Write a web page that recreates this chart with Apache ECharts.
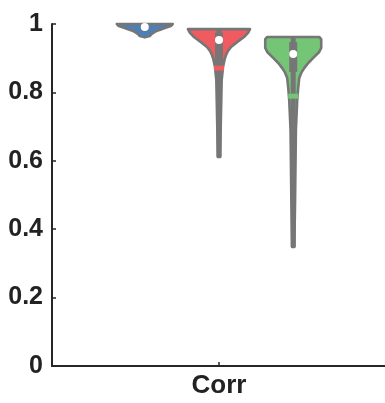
<!DOCTYPE html>
<html>
<head>
<meta charset="utf-8">
<script src="https://cdn.jsdelivr.net/npm/echarts@6/dist/echarts.min.js"></script>
<style>
  html, body { margin: 0; padding: 0; background: #fff; }
  #chart { width: 385px; height: 403px; }
</style>
</head>
<body>
<div id="chart"></div>
<script>
// Group positions along the (hidden) numeric x scale; the single category sits at 2
const categories = ['Corr'];
const categoryPos = [2];
const groupPos = [1, 2, 3];
const groupColors = ['#4f7fb8', '#ef5b5f', '#74c576'];

// Kernel density outlines: y levels and half-widths (x-axis units)
const blueY  = [1.000, 0.994, 0.988, 0.982, 0.977, 0.971, 0.965, 0.961];
const blueHW = [0.377, 0.350, 0.270, 0.189, 0.135, 0.094, 0.067, 0.000];
const redY   = [0.985, 0.974, 0.962, 0.947, 0.933, 0.921, 0.909, 0.895, 0.874, 0.836, 0.719, 0.611];
const redHW  = [0.418, 0.391, 0.337, 0.243, 0.162, 0.121, 0.094, 0.074, 0.054, 0.036, 0.025, 0.015];
const greenY  = [0.962, 0.956, 0.930, 0.918, 0.901, 0.886, 0.871, 0.857, 0.842, 0.813, 0.778, 0.690, 0.485, 0.348];
const greenHW = [0.350, 0.377, 0.377, 0.350, 0.270, 0.202, 0.148, 0.108, 0.081, 0.067, 0.054, 0.036, 0.025, 0.015];

// Summary statistics per group
const whiskerLow  = [0.961, 0.611, 0.348];
const whiskerHigh = [1.000, 0.985, 0.962];
const boxLow      = [0.975, 0.875, 0.860];
const boxHigh     = [0.997, 0.975, 0.947];
const medians     = [0.991, 0.953, 0.912];
const means       = [0.972, 0.871, 0.789];

// Y axis ticks
const yTicks = [0, 0.2, 0.4, 0.6, 0.8, 1];

const profiles = [
  { y: blueY, hw: blueHW },
  { y: redY, hw: redHW },
  { y: greenY, hw: greenHW }
];

const GRAY = '#767676';
const AXIS = '#262626';

function renderViolin(params, api) {
  const i = params.dataIndex;
  const pos = api.value(0);
  const prof = profiles[i];
  const left = [], right = [];
  for (let k = 0; k < prof.y.length; k++) {
    left.push(api.coord([pos - prof.hw[k], prof.y[k]]));
    right.push(api.coord([pos + prof.hw[k], prof.y[k]]));
  }
  const outline = left.concat(right.reverse());
  const cx = api.coord([pos, 0])[0];
  const wTop = api.coord([pos, whiskerHigh[i]])[1];
  const wBot = api.coord([pos, whiskerLow[i]])[1];
  const bTop = api.coord([pos, boxHigh[i]])[1];
  const bBot = api.coord([pos, boxLow[i]])[1];
  const med = api.coord([pos, medians[i]])[1];
  const mn = api.coord([pos, means[i]])[1];
  return {
    type: 'group',
    children: [
      {
        type: 'polygon',
        shape: { points: outline },
        style: { fill: groupColors[i], stroke: GRAY, lineWidth: 2.6, lineJoin: 'round' }
      },
      {
        type: 'rect',
        shape: { x: cx - 2.5, y: wTop, width: 5, height: wBot - wTop },
        style: { fill: GRAY }
      },
      {
        type: 'rect',
        shape: { x: cx - 4, y: bTop, width: 8, height: bBot - bTop },
        style: { fill: GRAY }
      },
      {
        type: 'rect',
        shape: { x: cx - 5, y: mn - 2.5, width: 10, height: 5 },
        style: { fill: groupColors[i] }
      },
      {
        type: 'circle',
        shape: { cx: cx, cy: med, r: 4 },
        style: { fill: '#ffffff' }
      }
    ]
  };
}

const chart = echarts.init(document.getElementById('chart'), null, { renderer: 'canvas' });
chart.setOption({
  animation: false,
  backgroundColor: '#ffffff',
  grid: { left: 52, right: -1, top: 24, bottom: 37, containLabel: false, outerBoundsMode: 'none' },
  xAxis: {
    type: 'value',
    min: -0.25,
    max: 4.25,
    splitLine: { show: false },
    axisLine: { show: true, onZero: false, lineStyle: { color: AXIS, width: 2 } },
    axisTick: { show: true, inside: true, length: 4, customValues: categoryPos, lineStyle: { color: AXIS, width: 1.5 } },
    axisLabel: {
      show: true,
      customValues: categoryPos,
      formatter: function (v) { return categories[categoryPos.indexOf(v)] || ''; },
      color: '#222',
      fontFamily: 'Liberation Sans, Arial, sans-serif',
      fontWeight: 'bold',
      fontSize: 26,
      margin: 7
    }
  },
  yAxis: {
    type: 'value',
    min: yTicks[0],
    max: yTicks[yTicks.length - 1],
    interval: 0.2,
    splitLine: { show: false },
    axisLine: { show: true, onZero: false, lineStyle: { color: AXIS, width: 2 } },
    axisTick: { show: true, inside: true, length: 4, lineStyle: { color: AXIS, width: 1.5 } },
    axisLabel: {
      color: '#222',
      fontFamily: 'Liberation Sans, Arial, sans-serif',
      fontWeight: 'bold',
      fontSize: 25,
      margin: 9,
      formatter: function (v) { return String(Math.round(v * 10) / 10); }
    }
  },
  series: [{
    type: 'custom',
    renderItem: renderViolin,
    clip: false,
    data: groupPos.map(function (p) { return [p]; }),
    encode: { x: 0 }
  }]
});
</script>
</body>
</html>
